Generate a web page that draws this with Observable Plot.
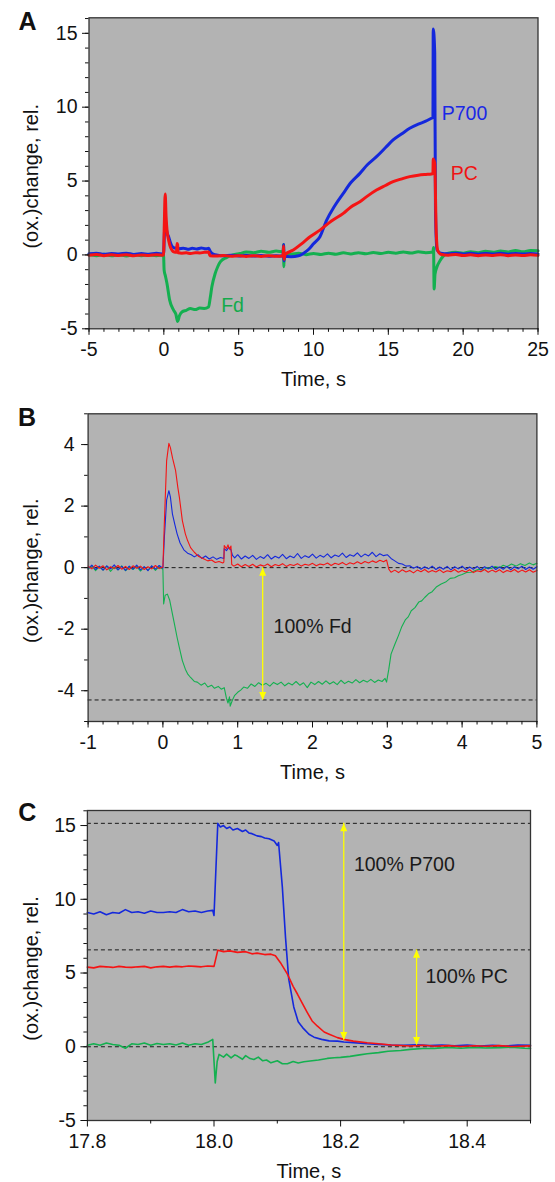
<!DOCTYPE html>
<html><head><meta charset="utf-8">
<script src="https://cdn.jsdelivr.net/npm/d3@7"></script>
<script src="https://cdn.jsdelivr.net/npm/@observablehq/plot@0.6"></script>
<style>
body{margin:0;background:#fff;}
#wrap{position:relative;width:555px;height:1182px;overflow:hidden;background:#fff;}
.panel{position:absolute;left:0;}
.panel svg{overflow:visible;}
</style></head><body><div id="wrap"></div>
<script>
// ---------------- Panel A data: [time s, (ox.)change rel.] ----------------
const aP700 = [[-5,0.08],[-4.5,0.12],[-4,0.04],[-3.5,0.1],[-3,0.06],[-2.5,0.12],[-2,0.03],[-1.5,0.09],[-1,0.05],[-0.5,0.11],[-0.02,0.06],
[0.03,1.2],[0.09,2.58],[0.15,1.9],[0.22,1.5],[0.32,1.23],[0.45,0.8],[0.54,0.6],[0.7,0.48],[0.85,0.45],[0.9,0.55],[1.0,0.42],[1.3,0.46],[1.6,0.38],[1.9,0.45],[2.2,0.40],[2.5,0.47],[2.8,0.41],[3.0,0.45],[3.1,0.25],[3.3,0.05],[3.6,-0.02],[4,-0.06],[4.5,-0.02],[5,-0.07],[5.5,-0.03],[6,-0.08],[6.5,-0.04],[7,-0.09],[7.5,-0.05],[7.97,-0.08],[8.0,0.7],[8.03,-0.4],[8.06,-0.1],[8.5,-0.12],[9,-0.06],[9.32,0.1],[9.7,0.4],[10.0,0.75],[10.43,1.23],[10.88,2.36],[11.4,3.3],[11.99,4.17],[12.5,4.9],[13.1,5.52],[13.6,6.1],[14.21,6.65],[14.8,7.25],[15.32,7.78],[15.9,8.2],[16.43,8.57],[17.0,8.85],[17.5,9.05],[17.88,9.25],[17.98,9.3],[18.0,15.3],[18.1,13.7],[18.15,3],[18.25,0.35],[18.5,0.12],[19,0.08],[19.5,0.12],[20,0.06],[20.5,0.11],[21,0.05],[21.5,0.1],[22,0.06],[22.5,0.11],[23,0.05],[23.5,0.1],[24,0.06],[24.5,0.1],[25,0.07]];
const aPC = [[-5,-0.02],[-4.5,0.03],[-4,-0.05],[-3.5,0.01],[-3,-0.04],[-2.5,0.02],[-2,-0.06],[-1.5,0.0],[-1,-0.04],[-0.5,0.02],[-0.02,-0.03],
[0.03,2.0],[0.09,4.12],[0.15,2.6],[0.22,1.6],[0.32,1.0],[0.45,0.5],[0.54,0.33],[0.7,0.2],[0.85,0.18],[0.88,0.78],[0.92,0.7],[0.95,0.15],[1.2,0.12],[1.5,0.14],[1.8,0.1],[2.1,0.15],[2.4,0.13],[2.7,0.18],[3.0,0.2],[3.08,-0.05],[3.5,-0.08],[4,-0.04],[4.5,-0.09],[5,-0.05],[5.5,-0.1],[6,-0.06],[6.5,-0.1],[7,-0.05],[7.5,-0.09],[7.97,-0.05],[8.0,0.6],[8.03,-0.3],[8.1,0.02],[8.65,0.33],[9.2,0.75],[9.77,1.23],[10.43,1.68],[11.2,2.3],[11.99,2.81],[12.5,3.25],[13.1,3.6],[13.6,3.98],[14.21,4.39],[14.8,4.7],[15.32,4.96],[15.9,5.15],[16.43,5.3],[17.0,5.4],[17.5,5.45],[17.88,5.48],[17.98,5.5],[18.0,6.5],[18.1,6.2],[18.2,1.5],[18.3,0.3],[18.5,0.05],[19,-0.02],[19.5,0.03],[20,-0.04],[20.5,0.01],[21,-0.05],[21.5,0.0],[22,-0.04],[22.5,0.02],[23,-0.05],[23.5,0.0],[24,-0.04],[24.5,0.01],[25,-0.03]];
const aFd = [[-5,0.02],[-4.5,-0.05],[-4,0.04],[-3.5,-0.06],[-3,0.01],[-2.5,-0.07],[-2,0.03],[-1.5,-0.05],[-1,0.0],[-0.5,-0.06],[-0.02,0.0],
[0.02,-1.03],[0.1,-1.4],[0.21,-1.93],[0.39,-3.06],[0.65,-3.74],[0.8,-4.0],[0.92,-4.5],[1.05,-4.1],[1.21,-3.86],[1.5,-3.75],[1.77,-3.63],[2.1,-3.7],[2.4,-3.6],[2.7,-3.62],[2.99,-3.52],[3.1,-2.9],[3.21,-2.16],[3.43,-1.26],[3.6,-0.8],[3.77,-0.47],[4.21,-0.17],[4.6,0.0],[5.1,0.1],[5.5,0.2],[6,0.15],[6.5,0.25],[7,0.18],[7.5,0.26],[7.97,0.2],[8.0,0.7],[8.02,-0.8],[8.05,0.1],[8.5,0.05],[9,0.12],[9.5,0.02],[10,0.1],[10.5,0.03],[11,0.12],[11.5,0.05],[12,0.14],[12.5,0.07],[13,0.15],[13.5,0.08],[14,0.17],[14.5,0.1],[15,0.18],[15.5,0.12],[16,0.2],[16.5,0.13],[17,0.21],[17.5,0.15],[17.98,0.2],[18.02,0.5],[18.06,-2.3],[18.12,-1.3],[18.25,-0.8],[18.45,-0.4],[18.7,-0.05],[19,0.12],[19.5,0.18],[20,0.12],[20.5,0.22],[21,0.15],[21.5,0.25],[22,0.18],[22.5,0.27],[23,0.2],[23.5,0.3],[24,0.22],[24.5,0.3],[25,0.28]];
const aLabels = [{text:"P700", x:18.57, y:9.14, color:"#1a28e6"}, {text:"PC", x:19.17, y:5.07, color:"#f01414"}, {text:"Fd", x:3.83, y:-3.86, color:"#14aa4c"}];

// ---------------- Panel B data ----------------
const bPC = [[-1,0.05],[-0.95,-0.04],[-0.9,0.08],[-0.85,-0.02],[-0.8,0.06],[-0.75,-0.07],[-0.7,0.03],[-0.65,-0.03],[-0.6,0.07],[-0.55,-0.05],[-0.5,0.04],[-0.45,-0.06],[-0.4,0.06],[-0.35,-0.02],[-0.3,0.05],[-0.25,-0.06],[-0.2,0.03],[-0.15,-0.04],[-0.1,0.07],[-0.05,-0.03],[0,0.02],
[0.02,1.5],[0.05,3.48],[0.08,4.04],[0.1,3.9],[0.13,3.55],[0.17,3.15],[0.2,2.6],[0.22,2.29],[0.26,1.53],[0.3,1.1],[0.33,0.88],[0.37,0.65],[0.42,0.5],[0.48,0.36],[0.55,0.28],[0.6,0.22],[0.65,0.25],[0.7,0.17],[0.75,0.2],[0.8,0.15],[0.815,0.18],[0.82,0.72],[0.85,0.62],[0.87,0.74],[0.89,0.6],[0.91,0.7],[0.92,0.1],[0.95,0.05],[1.0,0.12],[1.05,0.03],[1.1,0.1],[1.15,0.04],[1.2,0.11],[1.25,0.02],[1.3,0.09],[1.35,0.05],[1.4,0.12],[1.45,0.03],[1.5,0.1],[1.55,0.06],[1.6,0.13],[1.65,0.04],[1.7,0.1],[1.75,0.07],[1.8,0.13],[1.85,0.05],[1.9,0.11],[1.95,0.08],[2.0,0.14],[2.05,0.06],[2.1,0.12],[2.15,0.09],[2.2,0.15],[2.25,0.07],[2.3,0.14],[2.35,0.1],[2.4,0.17],[2.45,0.09],[2.5,0.16],[2.55,0.12],[2.6,0.19],[2.65,0.13],[2.7,0.2],[2.75,0.15],[2.8,0.22],[2.85,0.17],[2.9,0.24],[2.95,0.19],[2.99,0.25],[3.02,-0.05],[3.05,-0.15],[3.1,-0.08],[3.15,-0.16],[3.2,-0.07],[3.25,-0.14],[3.3,-0.09],[3.35,-0.17],[3.4,-0.08],[3.45,-0.13],[3.5,-0.06],[3.55,-0.15],[3.6,-0.09],[3.65,-0.14],[3.7,-0.07],[3.75,-0.16],[3.8,-0.1],[3.85,-0.13],[3.9,-0.06],[3.95,-0.15],[4.0,-0.09],[4.05,-0.14],[4.1,-0.07],[4.15,-0.16],[4.2,-0.1],[4.25,-0.13],[4.3,-0.06],[4.35,-0.15],[4.4,-0.08],[4.45,-0.14],[4.5,-0.07],[4.55,-0.16],[4.6,-0.09],[4.65,-0.13],[4.7,-0.06],[4.75,-0.15],[4.8,-0.08],[4.85,-0.14],[4.9,-0.07],[4.95,-0.15],[5.0,-0.09]];
const bP700 = [[-1,-0.03],[-0.95,0.08],[-0.9,-0.06],[-0.85,0.05],[-0.8,-0.08],[-0.75,0.06],[-0.7,-0.04],[-0.65,0.09],[-0.6,-0.07],[-0.55,0.04],[-0.5,-0.09],[-0.45,0.05],[-0.4,-0.05],[-0.35,0.08],[-0.3,-0.07],[-0.25,0.03],[-0.2,-0.1],[-0.15,0.06],[-0.1,-0.05],[-0.05,0.07],[0,-0.02],
[0.02,1.0],[0.05,2.2],[0.08,2.5],[0.1,2.3],[0.127,1.75],[0.16,1.4],[0.19,1.1],[0.23,0.8],[0.28,0.58],[0.33,0.47],[0.38,0.42],[0.42,0.35],[0.47,0.42],[0.52,0.3],[0.57,0.38],[0.62,0.28],[0.67,0.35],[0.72,0.27],[0.77,0.33],[0.815,0.3],[0.82,0.62],[0.85,0.55],[0.88,0.66],[0.91,0.58],[0.93,0.4],[0.96,0.32],[1.0,0.42],[1.05,0.28],[1.1,0.38],[1.15,0.3],[1.2,0.4],[1.25,0.27],[1.3,0.36],[1.35,0.3],[1.4,0.42],[1.45,0.28],[1.5,0.37],[1.55,0.31],[1.6,0.43],[1.65,0.29],[1.7,0.38],[1.75,0.32],[1.8,0.46],[1.85,0.3],[1.9,0.39],[1.95,0.33],[2.0,0.44],[2.05,0.31],[2.1,0.4],[2.15,0.34],[2.2,0.45],[2.25,0.32],[2.3,0.41],[2.35,0.36],[2.4,0.47],[2.45,0.33],[2.5,0.42],[2.55,0.37],[2.6,0.48],[2.65,0.35],[2.7,0.44],[2.75,0.38],[2.8,0.5],[2.85,0.36],[2.9,0.45],[2.95,0.39],[3.0,0.42],[3.05,0.3],[3.1,0.22],[3.15,0.14],[3.2,0.12],[3.25,0.05],[3.3,0.06],[3.35,-0.02],[3.4,0.04],[3.45,-0.05],[3.5,0.03],[3.55,-0.04],[3.6,0.05],[3.65,-0.06],[3.7,0.02],[3.75,-0.05],[3.8,0.04],[3.85,-0.07],[3.9,0.03],[3.95,-0.04],[4.0,0.05],[4.05,-0.06],[4.1,0.02],[4.15,-0.05],[4.2,0.04],[4.25,-0.07],[4.3,0.03],[4.35,-0.04],[4.4,0.05],[4.45,-0.06],[4.5,0.02],[4.55,-0.05],[4.6,0.04],[4.65,-0.07],[4.7,0.03],[4.75,-0.04],[4.8,0.05],[4.85,-0.06],[4.9,0.02],[4.95,-0.05],[5.0,0.03]];
const bFd = [[-1,-0.05],[-0.95,0.06],[-0.9,-0.1],[-0.85,0.03],[-0.8,-0.08],[-0.75,0.05],[-0.7,-0.12],[-0.65,0.02],[-0.6,-0.07],[-0.55,0.06],[-0.5,-0.1],[-0.45,0.01],[-0.4,-0.06],[-0.35,0.04],[-0.3,-0.11],[-0.25,0.02],[-0.2,-0.08],[-0.15,0.05],[-0.1,-0.09],[-0.05,0.03],[0,-0.05],
[0.01,-1.18],[0.03,-0.9],[0.06,-0.86],[0.09,-1.05],[0.127,-1.5],[0.16,-1.9],[0.19,-2.27],[0.22,-2.6],[0.26,-3.02],[0.3,-3.3],[0.33,-3.45],[0.37,-3.57],[0.42,-3.7],[0.46,-3.72],[0.51,-3.82],[0.56,-3.75],[0.6,-3.88],[0.65,-3.82],[0.69,-3.92],[0.74,-3.86],[0.78,-3.95],[0.82,-3.9],[0.85,-4.25],[0.87,-4.4],[0.89,-4.2],[0.9,-4.5],[0.93,-4.3],[0.96,-4.15],[1.0,-4.05],[1.04,-3.98],[1.08,-3.88],[1.13,-3.92],[1.18,-3.78],[1.23,-3.86],[1.28,-3.74],[1.33,-3.82],[1.38,-3.76],[1.43,-3.85],[1.48,-3.73],[1.53,-3.8],[1.58,-3.72],[1.63,-3.84],[1.68,-3.75],[1.73,-3.81],[1.78,-3.7],[1.83,-3.82],[1.88,-3.74],[1.93,-3.9],[1.98,-3.72],[2.03,-3.8],[2.08,-3.7],[2.13,-3.79],[2.18,-3.68],[2.23,-3.78],[2.28,-3.71],[2.33,-3.8],[2.38,-3.66],[2.43,-3.77],[2.48,-3.69],[2.53,-3.75],[2.58,-3.64],[2.63,-3.74],[2.68,-3.66],[2.73,-3.72],[2.78,-3.63],[2.83,-3.73],[2.88,-3.65],[2.93,-3.7],[2.97,-3.6],[2.99,-3.72],[3.02,-3.3],[3.05,-2.81],[3.1,-2.5],[3.15,-2.2],[3.19,-1.94],[3.24,-1.7],[3.28,-1.6],[3.32,-1.4],[3.37,-1.3],[3.42,-1.12],[3.46,-1.08],[3.5,-0.97],[3.55,-0.85],[3.6,-0.78],[3.66,-0.62],[3.72,-0.53],[3.78,-0.47],[3.84,-0.35],[3.9,-0.33],[3.95,-0.26],[4.0,-0.22],[4.06,-0.16],[4.12,-0.15],[4.17,-0.1],[4.22,-0.05],[4.28,-0.08],[4.33,0.0],[4.39,-0.03],[4.44,0.04],[4.5,0.0],[4.55,0.08],[4.6,0.03],[4.66,0.12],[4.72,0.05],[4.78,0.13],[4.84,0.07],[4.9,0.15],[4.95,0.09],[5.0,0.14]];
const bRefLines = [0, -4.3];
const bArrows = [{x:1.334, y1:0, y2:-4.3}];
const bLabels = [{text:"100% Fd", x:1.48, y:-2.11, color:"#1a1a1a"}];

// ---------------- Panel C data ----------------
const cP700 = [[17.8,9.1],[17.81,9.0],[17.82,9.15],[17.83,8.95],[17.84,9.1],[17.85,9.05],[17.86,9.3],[17.87,9.1],[17.88,9.15],[17.89,9.05],[17.9,9.2],[17.91,9.1],[17.92,9.1],[17.93,9.15],[17.94,9.1],[17.95,9.3],[17.96,9.15],[17.97,9.2],[17.98,9.1],[17.99,9.2],[17.998,9.25],[18.0,8.9],
[18.006,15.15],[18.01,14.9],[18.015,15.0],[18.02,14.8],[18.025,14.9],[18.03,14.7],[18.037,14.8],[18.045,14.6],[18.05,14.7],[18.055,14.5],[18.06,14.45],[18.068,14.3],[18.075,14.25],[18.08,14.15],[18.087,14.1],[18.095,13.95],[18.1,13.65],[18.102,13.85],[18.108,10.81],[18.113,7.4],[18.118,4.6],[18.126,2.7],[18.133,1.7],[18.14,1.3],[18.15,0.85],[18.158,0.65],[18.17,0.5],[18.182,0.4],[18.195,0.38],[18.205,0.32],[18.22,0.28],[18.242,0.2],[18.26,0.16],[18.28,0.12],[18.3,0.1],[18.32,0.14],[18.34,0.08],[18.36,0.12],[18.38,0.06],[18.4,0.11],[18.42,0.05],[18.44,0.1],[18.46,0.04],[18.48,0.12],[18.5,0.1]];
const cPC = [[17.8,5.4],[17.81,5.35],[17.82,5.45],[17.83,5.42],[17.84,5.38],[17.85,5.45],[17.86,5.4],[17.87,5.38],[17.88,5.42],[17.89,5.45],[17.9,5.35],[17.91,5.42],[17.92,5.45],[17.93,5.4],[17.94,5.45],[17.95,5.42],[17.96,5.48],[17.97,5.45],[17.98,5.42],[17.99,5.48],[18.0,5.45],[18.006,6.55],[18.015,6.45],[18.025,6.5],[18.037,6.4],[18.05,6.45],[18.06,6.3],[18.068,6.35],[18.08,6.25],[18.09,6.28],[18.097,6.17],[18.105,5.7],[18.116,4.92],[18.125,4.1],[18.132,3.56],[18.14,2.9],[18.147,2.35],[18.155,1.75],[18.163,1.41],[18.174,1.0],[18.182,0.85],[18.195,0.62],[18.205,0.5],[18.22,0.38],[18.242,0.27],[18.26,0.2],[18.28,0.12],[18.295,0.09],[18.31,0.05],[18.33,0.1],[18.35,0.03],[18.37,0.08],[18.39,0.02],[18.41,0.07],[18.43,0.03],[18.45,0.08],[18.47,0.02],[18.5,0.06]];
const cFd = [[17.8,0.1],[17.81,0.2],[17.82,0.1],[17.83,0.25],[17.84,0.15],[17.85,0.1],[17.86,-0.1],[17.87,0.2],[17.88,0.15],[17.89,0.25],[17.9,0.1],[17.91,0.22],[17.92,0.15],[17.93,0.2],[17.94,0.12],[17.95,0.25],[17.96,0.1],[17.97,0.2],[17.98,0.15],[17.99,0.3],[17.998,0.5],[18.002,-2.45],[18.005,-1.0],[18.008,-0.52],[18.015,-0.7],[18.02,-0.5],[18.027,-0.75],[18.033,-0.55],[18.037,-0.63],[18.045,-0.85],[18.05,-0.6],[18.057,-0.8],[18.063,-0.86],[18.07,-0.7],[18.077,-0.95],[18.083,-0.9],[18.09,-1.09],[18.1,-0.95],[18.108,-1.15],[18.116,-1.15],[18.125,-1.0],[18.133,-1.1],[18.142,-1.02],[18.155,-0.95],[18.165,-0.9],[18.179,-0.79],[18.19,-0.75],[18.2,-0.72],[18.215,-0.65],[18.23,-0.55],[18.242,-0.47],[18.26,-0.4],[18.275,-0.3],[18.295,-0.25],[18.31,-0.18],[18.33,-0.12],[18.348,-0.11],[18.37,-0.05],[18.39,-0.1],[18.41,-0.04],[18.43,-0.08],[18.453,-0.06],[18.47,-0.03],[18.49,-0.1],[18.5,-0.12]];
const cRefLines = [15.15, 6.57, 0];
const cArrows = [{x:18.205, y1:0.45, y2:15.15}, {x:18.32, y1:0.12, y2:6.57}];
const cLabels = [{text:"100% P700", x:18.221, y:11.9, color:"#1a1a1a"}, {text:"100% PC", x:18.334, y:4.31, color:"#1a1a1a"}];

// ---------------- Ticks ----------------
const aXTicks = [-5, 0, 5, 10, 15, 20, 25];
const aYTicks = [-5, 0, 5, 10, 15];
const bXTicks = [-1, 0, 1, 2, 3, 4, 5];
const bYTicks = [-4, -2, 0, 2, 4];
const cXTicks = [17.8, 18.0, 18.2, 18.4];
const cYTicks = [-5, 0, 5, 10, 15];
const aXMinor = d3.range(-5, 25.001, 1);
const aYMinor = d3.range(-5, 16.001, 1);
const bXMinor = d3.range(-1, 5.001, 0.2);
const bYMinor = d3.range(-5, 5.001, 1);
const cXMinor = [17.9, 18.1, 18.3, 18.5];
const cYMinor = d3.range(-5, 16.001, 1);

const FONT = "'Liberation Sans', Arial, Helvetica, sans-serif";
const BLUE = "#1428dc", RED = "#f51414", GREEN = "#14b050", BG = "#b3b3b3", YEL = "#ffff00";
const upHead = {draw(ctx){ ctx.moveTo(0,0); ctx.lineTo(3.5,8); ctx.lineTo(-3.5,8); ctx.closePath(); }};
const downHead = {draw(ctx){ ctx.moveTo(0,0); ctx.lineTo(3.5,-8); ctx.lineTo(-3.5,-8); ctx.closePath(); }};

function makePanel(c) {
  const X = d => d[0], Y = d => d[1];
  const marks = [
    Plot.frame({fill: BG}),
    Plot.ruleY(c.refs || [], {y: d => d, stroke: "#1a1a1a", strokeWidth: 1, strokeDasharray: "4,3"}),
    Plot.line(c.fd, {x: X, y: Y, stroke: GREEN, strokeWidth: c.sw, curve: c.curve}),
    Plot.line(c.p700, {x: X, y: Y, stroke: BLUE, strokeWidth: c.sw, curve: c.curve}),
    Plot.line(c.pc, {x: X, y: Y, stroke: RED, strokeWidth: c.sw, curve: c.curve}),
    Plot.ruleX(c.arrows || [], {x: "x", y1: "y1", y2: "y2", stroke: YEL, strokeWidth: 1.3}),
    Plot.dot(c.arrows || [], {x: "x", y: d => Math.max(d.y1, d.y2), symbol: upHead, fill: YEL, stroke: "none"}),
    Plot.dot(c.arrows || [], {x: "x", y: d => Math.min(d.y1, d.y2), symbol: downHead, fill: YEL, stroke: "none"}),
    Plot.frame({stroke: "#333", strokeWidth: 1.3}),
    Plot.axisX(c.xMinor, {tickSize: 3.5, tickFormat: () => "", label: null}),
    Plot.axisX(c.xTicks, {tickSize: 6.5, tickPadding: 7, tickFormat: c.xFmt, label: null, fontSize: 19.5}),
    Plot.axisY(c.yMinor, {tickSize: 3.5, tickFormat: () => "", label: null}),
    Plot.axisY(c.yTicks, {tickSize: 6.5, tickPadding: c.yPad, tickFormat: d => String(d), label: null, fontSize: 19.5}),
    Plot.text([c.letter], {frameAnchor: "top-left", text: d => d, dx: c.letterDx, dy: c.letterDy, textAnchor: "start", lineAnchor: "bottom", fontWeight: "bold", fontSize: 25}),
    Plot.text(["(ox.)change, rel."], {frameAnchor: "left", text: d => d, rotate: -90, dx: c.ylabDx, dy: 3, textAnchor: "middle", fontSize: 20}),
    Plot.text(["Time, s"], {frameAnchor: "bottom", text: d => d, dy: 57, textAnchor: "middle", lineAnchor: "bottom", fontSize: 20})
  ];
  for (const l of c.labels) {
    marks.push(Plot.text([l], {x: "x", y: "y", text: "text", fill: l.color, textAnchor: "start", lineAnchor: "bottom", fontSize: 19.5}));
  }
  return Plot.plot({
    width: 555, height: c.height,
    marginTop: c.m[0], marginRight: c.m[1], marginBottom: c.m[2], marginLeft: c.m[3],
    x: {domain: c.xDomain}, y: {domain: c.yDomain},
    style: {fontFamily: FONT, fontSize: "19.5px", background: "transparent", color: "#111", overflow: "visible"},
    marks
  });
}

const panels = [
  {top: 0, height: 390, m: [17.3, 17.5, 61.7, 88.5], xDomain: [-5, 25], yDomain: [-5, 16.05],
   p700: aP700, pc: aPC, fd: aFd, sw: 3, curve: "monotone-x", labels: aLabels,
   xTicks: aXTicks, xMinor: aXMinor, yTicks: aYTicks, yMinor: aYMinor, xFmt: d => String(d), yPad: 5,
   letter: "A", letterDx: -70.5, letterDy: 12, ylabDx: -57.5},
  {top: 390, height: 390, m: [23.3, 18.6, 59, 87.6], xDomain: [-1, 5], yDomain: [-5, 5],
   p700: bP700, pc: bPC, fd: bFd, sw: 1.1, curve: "linear", labels: bLabels, refs: bRefLines, arrows: bArrows,
   xTicks: bXTicks, xMinor: bXMinor, yTicks: bYTicks, yMinor: bYMinor, xFmt: d => String(d), yPad: 7,
   letter: "B", letterDx: -70, letterDy: 11.7, ylabDx: -56.6},
  {top: 780, height: 402, m: [30, 25, 62, 86.9], xDomain: [17.8, 18.5], yDomain: [-5, 16.02],
   p700: cP700, pc: cPC, fd: cFd, sw: 1.6, curve: "linear", labels: cLabels, refs: cRefLines, arrows: cArrows,
   xTicks: cXTicks, xMinor: cXMinor, yTicks: cYTicks, yMinor: cYMinor, xFmt: d => d.toFixed(1), yPad: 5,
   letter: "C", letterDx: -69.2, letterDy: 10, ylabDx: -55.9}
];

const wrap = document.getElementById("wrap");
for (const p of panels) {
  const div = document.createElement("div");
  div.className = "panel";
  div.style.top = p.top + "px";
  div.appendChild(makePanel(p));
  wrap.appendChild(div);
}
</script>
</body></html>
